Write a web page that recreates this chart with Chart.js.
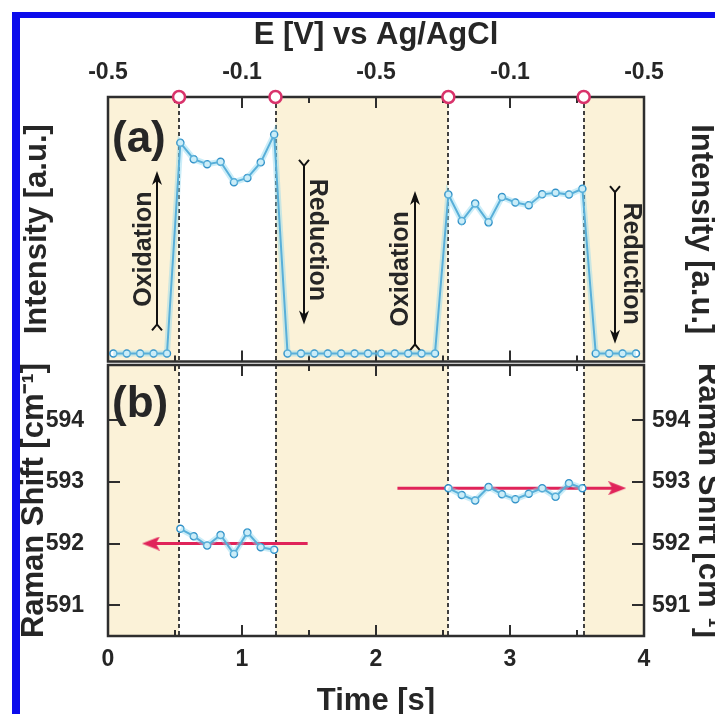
<!DOCTYPE html>
<html>
<head>
<meta charset="utf-8">
<script src="https://cdn.jsdelivr.net/npm/chart.js@4"></script>
<style>
html, body { margin: 0; padding: 0; width: 715px; height: 714px; overflow: hidden; background: #fff; }
#frame { position: absolute; left: 12px; top: 12px; width: 720px; height: 720px; box-sizing: border-box;
  border-left: 8px solid #0c0cec; border-top: 6px solid #0c0cec; }
#chartA { position: absolute; left: 0; top: 0; }
#chartB { position: absolute; left: 0; top: 320px; }
</style>
</head>
<body>
<div id="frame"></div>
<canvas id="chartA" width="730" height="370"></canvas>
<canvas id="chartB" width="730" height="410"></canvas>
<script>
// values
const switchTimes = [0.53, 1.25, 2.54, 3.55]
const eLabels = ['-0.5', '-0.1', '-0.5', '-0.1', '-0.5']
const ramanTicks = [591, 592, 593, 594]

const timeA = [0.04, 0.14, 0.24, 0.34, 0.44, 0.54, 0.64, 0.74, 0.84, 0.94, 1.04, 1.14, 1.24,
    1.34, 1.44, 1.54, 1.64, 1.74, 1.84, 1.94, 2.04, 2.14, 2.24, 2.34, 2.44,
    2.54, 2.64, 2.74, 2.84, 2.94, 3.04, 3.14, 3.24, 3.34, 3.44, 3.54, 3.64, 3.74, 3.84, 3.94]
const intensity = [3, 3, 3, 3, 3, 82.7, 76.5, 74.6, 75.5, 67.8, 69.4, 75.3, 85.8,
    3, 3, 3, 3, 3, 3, 3, 3, 3, 3, 3, 3,
    63.1, 53.1, 59.7, 52.6, 62.2, 60.1, 59.1, 63.2, 63.8, 63.1, 65.3, 3, 3, 3, 3]

const timeB1 = [0.54, 0.64, 0.74, 0.84, 0.94, 1.04, 1.14, 1.24]
const ramanB1 = [592.24, 592.12, 591.97, 592.14, 591.83, 592.18, 591.94, 591.90]
const timeB2 = [2.54, 2.64, 2.74, 2.84, 2.94, 3.04, 3.14, 3.24, 3.34, 3.44, 3.54]
const ramanB2 = [592.90, 592.79, 592.70, 592.92, 592.80, 592.72, 592.81, 592.90, 592.76, 592.98, 592.90]

// red mean-shift arrows (start time, head time, raman value)
const shiftLeft = [1.49, 0.32, 592.0]
const shiftRight = [2.16, 3.80, 592.9]

// oxidation / reduction arrows in panel (a)
const redoxNotes = [
    { text: 'Oxidation', x: 0.366, tail: 14, head: 72, tx: 0.27, ty: 42.5 },
    { text: 'Reduction', x: 1.46, tail: 74, head: 14, tx: 1.56, ty: 46 },
    { text: 'Oxidation', x: 2.29, tail: 6.5, head: 64.5, tx: 2.19, ty: 35 },
    { text: 'Reduction', x: 3.78, tail: 64, head: 6.7, tx: 3.90, ty: 37 },
]

const FONT = "'Liberation Sans', Arial, sans-serif"
const ink = '#262626'
const lineBlue = '#2e8ec6'
const glow = 'rgba(140, 215, 240, 0.45)'
const pink = '#d9336b'
const red = '#e0245a'
const shade = '#fbf2d8'

Chart.defaults.font.family = FONT
Chart.defaults.color = ink

const shadeBands = [[0, switchTimes[0]], [switchTimes[1], switchTimes[2]], [switchTimes[3], 4]]
const xTickMarks = [0.5, 1, 1.5, 2, 2.5, 3, 3.5]

function pts(xs, ys) {
    return xs.map((t, i) => ({ x: t, y: ys[i] }))
}

// arrow head used as point style
const head = document.createElement('canvas')
head.width = 18
head.height = 14
const hc = head.getContext('2d')
hc.fillStyle = red
hc.beginPath()
hc.moveTo(18, 7)
hc.lineTo(0, 0)
hc.lineTo(4, 7)
hc.lineTo(0, 14)
hc.closePath()
hc.fill()

function drawNotes(ctx, x, y) {
    ctx.strokeStyle = '#111'
    ctx.fillStyle = '#111'
    ctx.lineWidth = 2
    redoxNotes.forEach((n) => {
        const px = Math.round(x.getPixelForValue(n.x))
        const yt = y.getPixelForValue(n.tail)
        const yh = y.getPixelForValue(n.head)
        const dir = Math.sign(yh - yt)
        ctx.beginPath()
        ctx.moveTo(px, yt)
        ctx.lineTo(px, yh - dir * 9)
        ctx.stroke()
        ctx.beginPath()
        ctx.moveTo(px, yh)
        ctx.lineTo(px - 5, yh - dir * 14)
        ctx.lineTo(px, yh - dir * 10)
        ctx.lineTo(px + 5, yh - dir * 14)
        ctx.closePath()
        ctx.fill()
        ctx.beginPath()
        ctx.moveTo(px - 5, yt - dir * 6)
        ctx.lineTo(px, yt)
        ctx.lineTo(px + 5, yt - dir * 6)
        ctx.stroke()
        ctx.save()
        ctx.translate(x.getPixelForValue(n.tx), y.getPixelForValue(n.ty))
        ctx.rotate(dir < 0 ? -Math.PI / 2 : Math.PI / 2)
        ctx.font = 'bold 25px ' + FONT
        ctx.textAlign = 'center'
        ctx.textBaseline = 'middle'
        ctx.fillStyle = ink
        ctx.fillText(n.text, 0, 0)
        ctx.restore()
    })
}

const decor = {
    id: 'decor',
    beforeDatasetsDraw(chart, args, opts) {
        const { ctx, chartArea: a, scales } = chart
        const x = scales.x
        ctx.save()
        ctx.fillStyle = shade
        shadeBands.forEach(([t0, t1]) => {
            const p0 = x.getPixelForValue(t0)
            const p1 = x.getPixelForValue(t1)
            ctx.fillRect(p0, a.top, p1 - p0, a.bottom - a.top)
        })
        ctx.strokeStyle = '#404040'
        ctx.lineWidth = 2
        ctx.setLineDash([4, 3])
        switchTimes.forEach((t) => {
            const p = Math.round(x.getPixelForValue(t))
            ctx.beginPath()
            ctx.moveTo(p, a.top)
            ctx.lineTo(p, a.bottom)
            ctx.stroke()
        })
        ctx.setLineDash([])
        ctx.strokeStyle = '#2e2e2e'
        ctx.lineWidth = 2.5
        ctx.strokeRect(a.left, a.top, a.right - a.left, a.bottom - a.top)
        ctx.lineWidth = 2
        xTickMarks.forEach((t) => {
            const p = Math.round(x.getPixelForValue(t))
            const len = Number.isInteger(t) ? 11 : 6
            ctx.beginPath()
            ctx.moveTo(p, a.top)
            ctx.lineTo(p, a.top + len)
            ctx.moveTo(p, a.bottom)
            ctx.lineTo(p, a.bottom - len)
            ctx.stroke()
        })
        if (opts.yTicks) {
            ramanTicks.forEach((v) => {
                const p = Math.round(scales.y.getPixelForValue(v))
                ctx.beginPath()
                ctx.moveTo(a.left, p)
                ctx.lineTo(a.left + 12, p)
                ctx.moveTo(a.right, p)
                ctx.lineTo(a.right - 12, p)
                ctx.stroke()
            })
        }
        if (opts.notes) drawNotes(ctx, x, scales.y)
        ctx.font = 'bold 44px ' + FONT
        ctx.fillStyle = ink
        ctx.textBaseline = 'middle'
        ctx.textAlign = 'left'
        ctx.fillText(opts.label, a.left + 4, a.top + opts.labelY)
        ctx.restore()
    },
}

const tickFont = { size: 23, weight: 'bold' }
const titleFont = { size: 31, weight: 'bold' }
const noGrid = { display: false, drawTicks: false }

const chartA = new Chart(document.getElementById('chartA'), {
    type: 'line',
    data: {
        datasets: [
            { data: pts(timeA, intensity), borderColor: glow, borderWidth: 6, pointRadius: 0 },
            {
                label: 'Intensity',
                data: pts(timeA, intensity),
                borderColor: lineBlue,
                borderWidth: 2,
                pointRadius: 3.5,
                pointBorderWidth: 1.5,
                pointBorderColor: lineBlue,
                pointBackgroundColor: '#fff',
            },
            {
                label: 'switch',
                data: switchTimes.map((t) => ({ x: t, y: 100 })),
                showLine: false,
                pointRadius: 6,
                pointBorderWidth: 2.5,
                pointBorderColor: pink,
                pointBackgroundColor: '#fff',
                clip: false,
            },
        ],
    },
    options: {
        responsive: false,
        animation: false,
        layout: { padding: { bottom: 5 } },
        plugins: {
            legend: { display: false },
            tooltip: { enabled: false },
            decor: { label: '(a)', labelY: 43, notes: true },
        },
        scales: {
            x: { type: 'linear', min: 0, max: 4, display: false },
            xTop: {
                type: 'linear',
                position: 'top',
                min: 0,
                max: 4,
                grid: noGrid,
                border: { display: false },
                ticks: { stepSize: 1, maxRotation: 0, padding: 11, font: tickFont, callback: (v, i) => eLabels[i] },
                title: { display: true, text: 'E [V] vs Ag/AgCl', font: titleFont, padding: { top: 17, bottom: 0 } },
                afterFit: (s) => { s.height = 97 },
            },
            y: {
                min: 0,
                max: 100,
                grid: noGrid,
                border: { display: false },
                ticks: { display: false },
                title: { display: true, text: 'Intensity [a.u.]', font: titleFont, padding: { top: 19, bottom: 0 } },
                afterFit: (s) => { s.width = 108 },
            },
            yR: {
                position: 'right',
                min: 0,
                max: 100,
                grid: noGrid,
                border: { display: false },
                ticks: { display: false },
                title: { display: true, text: 'Intensity [a.u.]', font: titleFont, padding: { top: 11, bottom: 0 } },
                afterFit: (s) => { s.width = 86 },
            },
        },
    },
    plugins: [decor],
})

const segStyle = {
    borderColor: lineBlue,
    borderWidth: 2,
    pointRadius: 3.5,
    pointBorderWidth: 1.5,
    pointBorderColor: lineBlue,
    pointBackgroundColor: '#fff',
}
const arrowStyle = {
    borderColor: red,
    borderWidth: 3,
    pointRadius: [0, 9],
    pointStyle: head,
    pointBorderWidth: 0,
    pointBackgroundColor: red,
}

const chartB = new Chart(document.getElementById('chartB'), {
    type: 'line',
    data: {
        datasets: [
            { data: pts(timeB1, ramanB1), borderColor: glow, borderWidth: 6, pointRadius: 0 },
            { data: pts(timeB2, ramanB2), borderColor: glow, borderWidth: 6, pointRadius: 0 },
            { label: 'Raman 1', data: pts(timeB1, ramanB1), ...segStyle },
            { label: 'Raman 2', data: pts(timeB2, ramanB2), ...segStyle },
            {
                label: 'shift left',
                data: [{ x: shiftLeft[0], y: shiftLeft[2] }, { x: shiftLeft[1], y: shiftLeft[2] }],
                ...arrowStyle,
                pointRotation: [0, 180],
            },
            {
                label: 'shift right',
                data: [{ x: shiftRight[0], y: shiftRight[2] }, { x: shiftRight[1], y: shiftRight[2] }],
                ...arrowStyle,
                pointRotation: [0, 0],
            },
        ],
    },
    options: {
        responsive: false,
        animation: false,
        layout: { padding: { top: 45 } },
        plugins: {
            legend: { display: false },
            tooltip: { enabled: false },
            decor: { label: '(b)', labelY: 40, yTicks: true },
        },
        scales: {
            x: {
                type: 'linear',
                min: 0,
                max: 4,
                grid: noGrid,
                border: { display: false },
                ticks: { stepSize: 1, maxRotation: 0, padding: 10, font: tickFont },
                title: { display: true, text: 'Time [s]', font: titleFont, padding: { top: 0, bottom: 10 } },
                afterFit: (s) => { s.height = 94 },
            },
            y: {
                min: 590.5,
                max: 594.9,
                grid: noGrid,
                border: { display: false },
                afterBuildTicks: (s) => { s.ticks = ramanTicks.map((v) => ({ value: v })) },
                ticks: { padding: 24, font: tickFont },
                title: { display: true, text: 'Raman Shift [cm⁻¹]', font: titleFont, padding: { top: 16, bottom: 0 } },
                afterFit: (s) => { s.width = 108 },
            },
            yR: {
                position: 'right',
                min: 590.5,
                max: 594.9,
                grid: noGrid,
                border: { display: false },
                afterBuildTicks: (s) => { s.ticks = ramanTicks.map((v) => ({ value: v })) },
                ticks: { padding: 8, font: tickFont },
                title: { display: true, text: 'Raman Shift [cm⁻¹]', font: titleFont, padding: { top: 4, bottom: 0 } },
                afterFit: (s) => { s.width = 86 },
            },
        },
    },
    plugins: [decor],
})
</script>
</body>
</html>
